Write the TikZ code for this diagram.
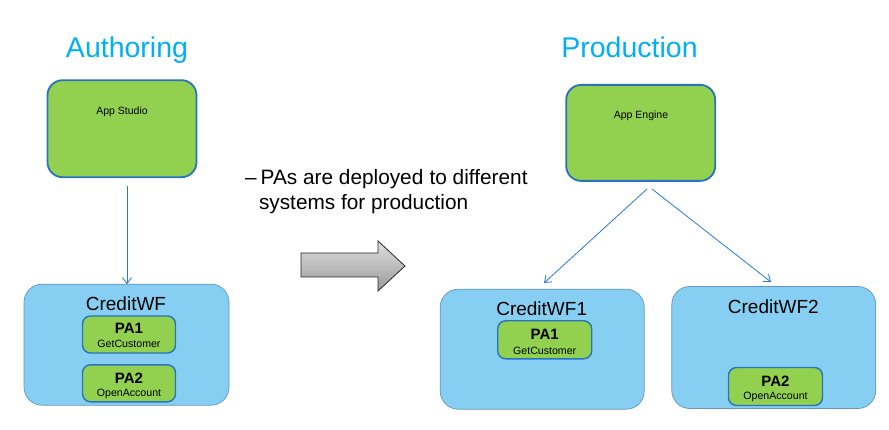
\documentclass[tikz,border=0pt]{standalone}
\usepackage{fontspec}
\setmainfont{Liberation Sans}
\usetikzlibrary{arrows.meta}
\definecolor{titlecol}{RGB}{0,176,240}
\definecolor{greenfill}{RGB}{146,208,80}
\definecolor{boxblue}{RGB}{40,115,190}
\definecolor{wffill}{RGB}{135,207,242}
\definecolor{wfborder}{RGB}{95,150,195}
\definecolor{linkblue}{RGB}{40,120,210}
\tikzset{
  appbox/.style={draw=boxblue, line width=1.8pt, fill=greenfill, rounded corners=15pt, inner sep=0pt},
  wfbox/.style={draw=wfborder, line width=0.7pt, fill=wffill, rounded corners=18pt, inner sep=0pt},
  pabox/.style={draw=boxblue, line width=1.4pt, fill=greenfill, rounded corners=8pt, inner sep=0pt, minimum width=93pt, minimum height=37pt},
  titletxt/.style={anchor=base, text=titlecol, font=\fontsize{28.5}{30}\selectfont},
  apptxt/.style={anchor=base, font=\fontsize{10.5}{12}\selectfont},
  wftxt/.style={anchor=base, font=\fontsize{19}{21}\selectfont},
  patxt/.style={anchor=base, font=\fontsize{15}{17}\selectfont\bfseries},
  pasub/.style={anchor=base, font=\fontsize{10.6}{12}\selectfont},
  bullettxt/.style={anchor=base west, font=\fontsize{20.8}{24}\selectfont},
  link/.style={draw=linkblue, line width=0.8pt, -{Straight Barb[length=6pt,width=9pt]}}
}
\begin{document}
\begin{tikzpicture}[x=1pt,y=-1pt]
\useasboundingbox (0,0) rectangle (889,430);
% titles
\node[titletxt] (auth) at (127,58) {Authoring};
\node[titletxt] (prod) at (629.5,58) {Production};
% app boxes
\node[appbox, minimum width=149pt, minimum height=97pt] (as) at (122,128.7) {};
\node[apptxt] (astxt) at (122,115) {App Studio};
\node[appbox, minimum width=149pt, minimum height=96pt] (ae) at (640.7,132.9) {};
\node[apptxt] (aetxt) at (641,119) {App Engine};
% left container
\node[wfbox, minimum width=205pt, minimum height=121pt] (wf) at (126.5,344.7) {};
\node[wftxt] (wftxt) at (126,310.7) {CreditWF};
\node[pabox] (pa1) at (129,334.5) {};
\node[patxt] (pa1t) at (129,334) {PA1};
\node[pasub] (pa1s) at (129,347.3) {GetCustomer};
\node[pabox] (pa2) at (129,383.3) {};
\node[patxt] (pa2t) at (129,383.3) {PA2};
\node[pasub] (pa2s) at (129,396.7) {OpenAccount};
% right containers
\node[wfbox, minimum width=204pt, minimum height=120pt] (wf1) at (542.2,349.2) {};
\node[wftxt] (wf1txt) at (541.7,315.7) {CreditWF1};
\node[pabox, minimum width=94pt, minimum height=38pt] (pa1b) at (544.7,339.8) {};
\node[patxt] (pa1bt) at (544.7,340) {PA1};
\node[pasub] (pa1bs) at (544.7,354) {GetCustomer};
\node[wfbox, minimum width=204pt, minimum height=122pt] (wf2) at (773.8,347.5) {};
\node[wftxt] (wf2txt) at (773.3,313.3) {CreditWF2};
\node[pabox, minimum width=94pt, minimum height=38pt] (pa2b) at (775.5,386.5) {};
\node[patxt] (pa2bt) at (775.5,386) {PA2};
\node[pasub] (pa2bs) at (775.5,399.3) {OpenAccount};
% bullet text
\node[bullettxt] (b1) at (241.5,184.5) {–\hspace{0.2em}PAs are deployed\hspace{0.3em}to different};
\node[bullettxt] (b2) at (255.5,209.5) {systems for production};
% big arrow
\shade[top color=gray!25, bottom color=gray!80, draw=gray!30!black, line width=0.8pt]
  (301,253) -- (378,253) -- (378,241) -- (405,266) -- (378,291) -- (378,277) -- (301,277) -- cycle;
% connectors
\coordinate (s0) at (127,186);
\coordinate (e0) at (127,284.3);
\coordinate (s1) at (647,189);
\coordinate (e1) at (544,283);
\coordinate (s2) at (652,189);
\coordinate (e2) at (771,282);
\draw[link] (s0) -- (e0);
\draw[link] (s1) -- (e1);
\draw[link] (s2) -- (e2);
\end{tikzpicture}
\end{document}
